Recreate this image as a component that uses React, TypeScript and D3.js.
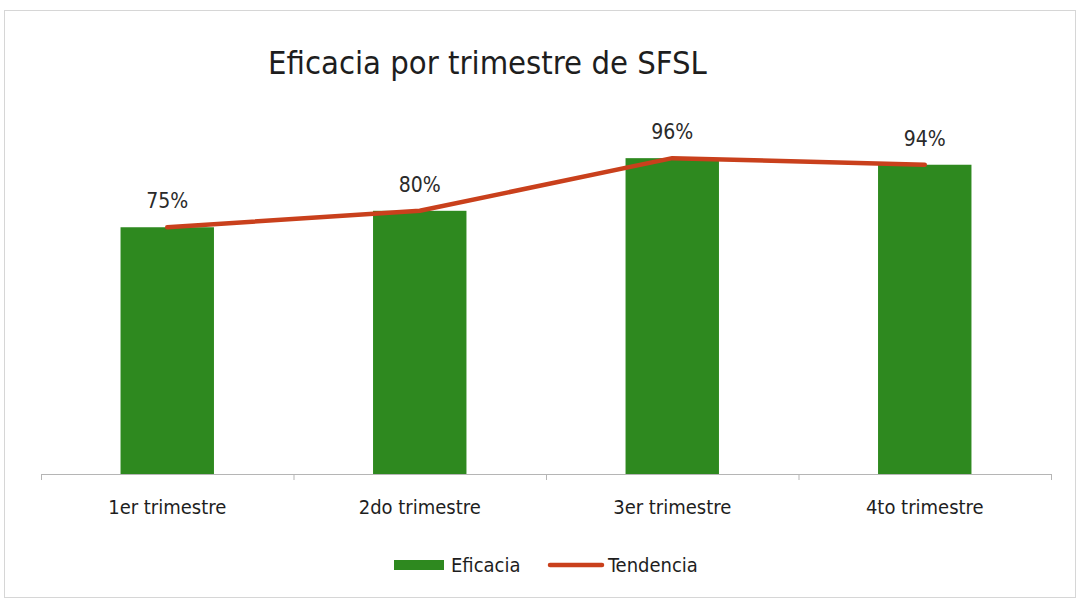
import React, { useEffect, useRef } from 'react';
import * as d3 from 'd3';

// chart values
const categories = ['1er trimestre', '2do trimestre', '3er trimestre', '4to trimestre'];
const eficacia = [75, 80, 96, 94];
const tendencia = [75, 80, 96, 94];
const seriesNames = ['Eficacia', 'Tendencia'];
const title = 'Eficacia por trimestre de SFSL';

const App: React.FC = () => {
  const svgRef = useRef<SVGSVGElement>(null);

  useEffect(() => {
    const width = 1078;
    const height = 600;
    const margin = { top: 145, right: 27, bottom: 126, left: 41 };
    const font = '"DejaVu Sans Condensed", "Open Sans", sans-serif';
    const green = '#2e891f';
    const red = '#c9401c';

    const svg = d3.select(svgRef.current)
      .attr('width', width)
      .attr('height', height);
    svg.selectAll('*').remove();

    // frame
    svg.append('rect')
      .attr('x', 4.5).attr('y', 10.5)
      .attr('width', width - 7).attr('height', height - 13)
      .attr('fill', '#fff').attr('stroke', '#d6d6d6');

    svg.append('text')
      .attr('x', 268).attr('y', 74)
      .attr('font-family', font).attr('font-size', 32.5)
      .attr('fill', '#1e1e1e')
      .text(title);

    const x = d3.scaleBand()
      .domain(categories)
      .range([margin.left, width - margin.right])
      .paddingInner(0.63).paddingOuter(0.315);

    const band = d3.scaleBand()
      .domain(categories)
      .range([margin.left, width - margin.right]);

    const y = d3.scaleLinear()
      .domain([0, 100])
      .range([height - margin.bottom, margin.top]);

    const g = svg.append('g');

    g.selectAll('rect.bar')
      .data(eficacia)
      .enter()
      .append('rect')
      .attr('class', 'bar')
      .attr('x', (d, i) => x(categories[i])!)
      .attr('y', d => y(d))
      .attr('width', x.bandwidth())
      .attr('height', d => y(0) - y(d))
      .attr('fill', green);

    // axis
    const baseY = y(0);
    g.append('line')
      .attr('x1', margin.left).attr('x2', width - margin.right)
      .attr('y1', baseY + 0.5).attr('y2', baseY + 0.5)
      .attr('stroke', '#b5b5b5');
    const tickXs = categories.map(c => band(c)!).concat([width - margin.right]);
    g.selectAll('line.tick')
      .data(tickXs)
      .enter()
      .append('line')
      .attr('class', 'tick')
      .attr('x1', d => d + 0.5).attr('x2', d => d + 0.5)
      .attr('y1', baseY).attr('y2', baseY + 6)
      .attr('stroke', '#b5b5b5');

    g.selectAll('text.cat')
      .data(categories)
      .enter()
      .append('text')
      .attr('class', 'cat')
      .attr('x', d => band(d)! + band.bandwidth() / 2)
      .attr('y', baseY + 40)
      .attr('text-anchor', 'middle')
      .attr('font-family', font).attr('font-size', 20)
      .attr('fill', '#1e1e1e')
      .text(d => d);

    // trend line
    const cx = (i: number) => band(categories[i])! + band.bandwidth() / 2;
    const line = d3.line<number>()
      .x((d, i) => cx(i))
      .y(d => y(d));
    g.append('path')
      .datum(tendencia)
      .attr('d', line)
      .attr('fill', 'none')
      .attr('stroke', red)
      .attr('stroke-width', 4.5)
      .attr('stroke-linecap', 'round')
      .attr('stroke-linejoin', 'round');

    g.selectAll('text.lbl')
      .data(tendencia)
      .enter()
      .append('text')
      .attr('class', 'lbl')
      .attr('x', (d, i) => cx(i))
      .attr('y', d => y(d) - 19)
      .attr('text-anchor', 'middle')
      .attr('font-family', font).attr('font-size', 21)
      .attr('fill', '#2a2a2a')
      .text(d => `${d}%`);

    // legend
    const leg = svg.append('g').attr('transform', 'translate(394, 565)');
    leg.append('rect')
      .attr('x', 0).attr('y', -5).attr('width', 50).attr('height', 10)
      .attr('fill', green);
    leg.append('text')
      .attr('x', 57).attr('y', 7)
      .attr('font-family', font).attr('font-size', 20)
      .attr('fill', '#1e1e1e')
      .text(seriesNames[0]);
    leg.append('line')
      .attr('x1', 156).attr('x2', 208).attr('y1', 0).attr('y2', 0)
      .attr('stroke', red).attr('stroke-width', 4.5).attr('stroke-linecap', 'round');
    leg.append('text')
      .attr('x', 214).attr('y', 7)
      .attr('font-family', font).attr('font-size', 20)
      .attr('fill', '#1e1e1e')
      .text(seriesNames[1]);
  }, []);

  return <svg ref={svgRef} style={{ position: 'absolute', left: 0, top: 0, display: 'block' }}></svg>;
};

export default App;
